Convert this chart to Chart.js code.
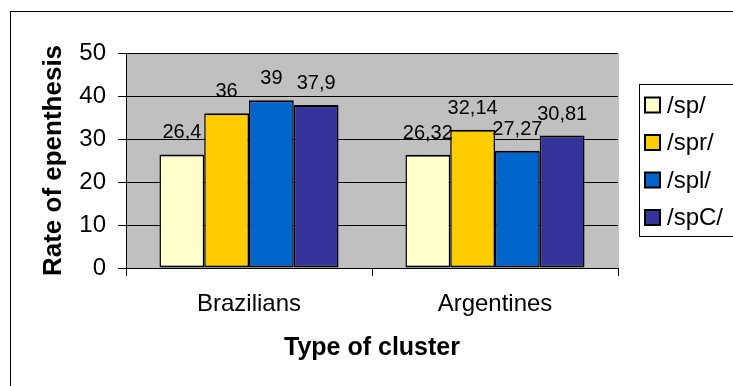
<!DOCTYPE html>
<html>
<head>
<meta charset="utf-8">
<script src="https://cdn.jsdelivr.net/npm/chart.js@4/dist/chart.umd.min.js"></script>
<style>
  html, body { margin: 0; padding: 0; background: #ffffff; }
  #wrap { width: 733px; height: 386px; }
</style>
</head>
<body>
<div id="wrap"><canvas id="chart" width="733" height="386"></canvas></div>
<script>
// Epenthesis rate per speaker group and cluster type
const groups = ['Brazilians', 'Argentines'];
const clusterNames = ['/sp/', '/spr/', '/spl/', '/spC/'];
const spValues  = [26.4, 26.32];
const sprValues = [36, 32.14];
const splValues = [39, 27.27];
const spCValues = [37.9, 30.81];
const yTicks = [0, 10, 20, 30, 40, 50];

const seriesValues = [spValues, sprValues, splValues, spCValues];
const seriesColors = ['#FFFFCC', '#FFCC00', '#0066CC', '#333399'];

const FONT = "'Liberation Sans', Arial, sans-serif";
Chart.defaults.font.family = FONT;
Chart.defaults.color = '#000000';

// Grey plotting surface behind grid and bars
const plotBackground = {
  id: 'plotBackground',
  beforeDraw(chart) {
    const { ctx, chartArea: a } = chart;
    ctx.save();
    ctx.fillStyle = '#C0C0C0';
    ctx.fillRect(a.left, a.top, a.right - a.left + 1, a.bottom - a.top);
    ctx.restore();
  }
};

// Thin outer frame of the chart object
const outerFrame = {
  id: 'outerFrame',
  afterDraw(chart) {
    const { ctx } = chart;
    ctx.save();
    ctx.strokeStyle = '#000000';
    ctx.lineWidth = 1;
    ctx.strokeRect(10.5, 11.5, 900, 600);
    ctx.restore();
  }
};

// Value labels above each bar, decimal comma
const valueLabels = {
  id: 'valueLabels',
  afterDatasetsDraw(chart) {
    const { ctx } = chart;
    ctx.save();
    ctx.font = '20px ' + FONT;
    ctx.fillStyle = '#000000';
    ctx.textAlign = 'center';
    ctx.textBaseline = 'alphabetic';
    chart.data.datasets.forEach((ds, i) => {
      const meta = chart.getDatasetMeta(i);
      meta.data.forEach((bar, j) => {
        const text = String(ds.data[j]).replace('.', ',');
        ctx.fillText(text, bar.x, bar.y - 16);
      });
    });
    ctx.restore();
  }
};

// Boxed legend on the right
const boxedLegend = {
  id: 'boxedLegend',
  afterDraw(chart) {
    const { ctx } = chart;
    const left = 639.5, top = 84.5, bottom = 236.5;
    ctx.save();
    ctx.strokeStyle = '#000000';
    ctx.lineWidth = 1;
    ctx.strokeRect(left, top, 200, bottom - top);
    ctx.font = '24px ' + FONT;
    ctx.textAlign = 'left';
    ctx.textBaseline = 'middle';
    chart.data.datasets.forEach((ds, i) => {
      const cy = 105 + i * 37.5;
      ctx.fillStyle = ds.backgroundColor;
      ctx.fillRect(645, cy - 7.5, 15, 15);
      ctx.lineWidth = 2;
      ctx.strokeStyle = '#000000';
      ctx.strokeRect(645, cy - 7.5, 15, 15);
      ctx.fillStyle = '#000000';
      ctx.fillText(ds.label, 667, cy + 1);
    });
    ctx.restore();
  }
};

const datasets = clusterNames.map((name, i) => ({
  label: name,
  data: seriesValues[i],
  backgroundColor: seriesColors[i],
  borderColor: '#000000',
  borderWidth: { top: 2, bottom: 2, left: 1.5, right: 1.5 },
  borderSkipped: false,
  categoryPercentage: 0.728,
  barPercentage: 1.0
}));

new Chart(document.getElementById('chart'), {
  type: 'bar',
  data: { labels: groups, datasets: datasets },
  options: {
    responsive: false,
    animation: false,
    devicePixelRatio: 1,
    layout: { padding: { left: 0, top: 53, right: 115, bottom: 0 } },
    plugins: {
      legend: { display: false },
      tooltip: { enabled: false }
    },
    scales: {
      x: {
        afterFit(scale) { scale.height = 118; },
        grid: {
          offset: true,
          drawOnChartArea: false,
          drawTicks: true,
          tickLength: 8,
          color: '#000000'
        },
        border: { color: '#000000', width: 1 },
        ticks: { font: { size: 24 }, color: '#000000', padding: 14 },
        title: {
          display: true,
          text: 'Type of cluster',
          font: { size: 25, weight: 'bold' },
          color: '#000000',
          padding: { top: 0, bottom: 23 }
        }
      },
      y: {
        min: 0,
        max: 50,
        afterFit(scale) { scale.width = 126; },
        afterBuildTicks(scale) { scale.ticks = yTicks.map(v => ({ value: v })); },
        grid: {
          color: '#000000',
          drawTicks: true,
          tickLength: 8
        },
        border: { color: '#000000', width: 1 },
        ticks: { font: { size: 24 }, color: '#000000', padding: 12 },
        title: {
          display: true,
          text: 'Rate of epenthesis',
          font: { size: 26, weight: 'bold' },
          color: '#000000',
          padding: { top: 38, bottom: 0 }
        }
      }
    }
  },
  plugins: [plotBackground, valueLabels, boxedLegend, outerFrame]
});
</script>
</body>
</html>
